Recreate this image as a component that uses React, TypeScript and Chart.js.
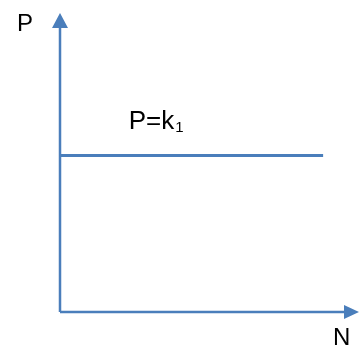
import React, { useEffect, useRef } from "react";
import { Chart, registerables } from "chart.js";

Chart.register(...registerables);

// Constant price line P = k1 across the quantity axis N
const lineN: number[] = [0, 8.8];
const lineP: number[] = [5.23, 5.23];
const axisMax = 10;
const yAxisLabel = "P";
const xAxisLabel = "N";
const lineLabelMain = "P=k";
const lineLabelSub = "1";
const lineLabelAtN = 2.3;

const BLUE = "#4a7ebb";
const FONT = '"Liberation Sans", Arial, sans-serif';

const axesPlugin = {
  id: "arrowAxes",
  beforeDatasetsDraw(chart: any) {
    const ctx = chart.ctx;
    const xs = chart.scales.x;
    const ys = chart.scales.y;
    const x0 = xs.getPixelForValue(0);
    const xEnd = xs.getPixelForValue(axisMax);
    const y0 = ys.getPixelForValue(0);
    const yEnd = ys.getPixelForValue(axisMax);
    const head = 15;
    const half = 8;
    ctx.save();
    ctx.strokeStyle = BLUE;
    ctx.fillStyle = BLUE;
    ctx.lineWidth = 2.5;
    ctx.beginPath();
    ctx.moveTo(x0, y0);
    ctx.lineTo(x0, yEnd + head);
    ctx.moveTo(x0, y0);
    ctx.lineTo(xEnd - head, y0);
    ctx.stroke();
    // arrowheads
    ctx.beginPath();
    ctx.moveTo(x0, yEnd);
    ctx.lineTo(x0 - half, yEnd + head);
    ctx.lineTo(x0 + half, yEnd + head);
    ctx.closePath();
    ctx.fill();
    ctx.beginPath();
    ctx.moveTo(xEnd, y0);
    ctx.lineTo(xEnd - head, y0 - 7);
    ctx.lineTo(xEnd - head, y0 + 7);
    ctx.closePath();
    ctx.fill();
    ctx.restore();
  },
  afterDatasetsDraw(chart: any) {
    const ctx = chart.ctx;
    const xs = chart.scales.x;
    const ys = chart.scales.y;
    const x0 = xs.getPixelForValue(0);
    const xEnd = xs.getPixelForValue(axisMax);
    const y0 = ys.getPixelForValue(0);
    const yEnd = ys.getPixelForValue(axisMax);
    ctx.save();
    ctx.fillStyle = "#000000";
    ctx.textBaseline = "alphabetic";
    ctx.textAlign = "left";
    ctx.font = `24px ${FONT}`;
    ctx.fillText(yAxisLabel, x0 - 43, yEnd + 18);
    ctx.fillText(xAxisLabel, xEnd - 26, y0 + 33);
    // label above the constant line
    const lx = xs.getPixelForValue(lineLabelAtN);
    const ly = ys.getPixelForValue(lineP[0]) - 27;
    ctx.font = `26px ${FONT}`;
    ctx.fillText(lineLabelMain, lx, ly);
    const w = ctx.measureText(lineLabelMain).width;
    ctx.font = `15px ${FONT}`;
    ctx.fillText(lineLabelSub, lx + w + 1, ly + 3);
    ctx.restore();
  },
};

export default function App() {
  const canvasRef = useRef<HTMLCanvasElement | null>(null);

  useEffect(() => {
    if (!canvasRef.current) return;
    const chart = new Chart(canvasRef.current, {
      type: "line",
      data: {
        datasets: [
          {
            data: lineN.map((n, i) => ({ x: n, y: lineP[i] })),
            borderColor: BLUE,
            borderWidth: 3,
            pointRadius: 0,
            fill: false,
          },
        ],
      },
      options: {
        animation: false,
        responsive: false,
        maintainAspectRatio: false,
        layout: { padding: { left: 60, top: 13, right: 3, bottom: 35 } },
        plugins: {
          legend: { display: false },
          tooltip: { enabled: false },
        },
        scales: {
          x: { type: "linear", min: 0, max: axisMax, display: false },
          y: { type: "linear", min: 0, max: axisMax, display: false },
        },
      },
      plugins: [axesPlugin],
    });
    return () => chart.destroy();
  }, []);

  return (
    <div style={{ position: "fixed", left: 0, top: 0, width: 362, height: 347, background: "#fff" }}>
      <canvas ref={canvasRef} width={362} height={347} style={{ display: "block" }} />
    </div>
  );
}
